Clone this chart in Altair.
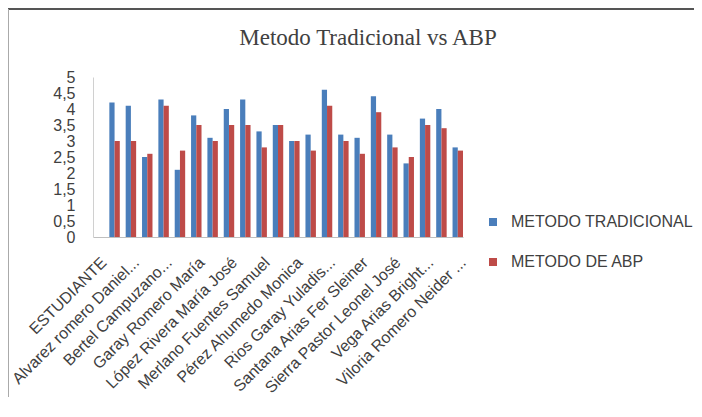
import json
import altair as alt
import pandas as pd

categorias = [
    "ESTUDIANTE", "Estudiante 1", "Alvarez romero Daniel...", "Estudiante 3",
    "Bertel Campuzano...", "Estudiante 5", "Garay Romero María", "Estudiante 7",
    "López Rivera María José", "Estudiante 9", "Merlano Fuentes Samuel", "Estudiante 11",
    "Pérez Ahumedo Monica", "Estudiante 13", "Rios Garay Yuladis...", "Estudiante 15",
    "Santana Arias Fer Sleiner", "Estudiante 17", "Sierra Pastor Leonel José", "Estudiante 19",
    "Vega Arias Bright...", "Estudiante 21", "Viloria Romero Neider ...",
]
etiquetas_visibles = categorias[::2]
tradicional = [None, 4.2, 4.1, 2.5, 4.3, 2.1, 3.8, 3.1, 4.0, 4.3, 3.3, 3.5,
               3.0, 3.2, 4.6, 3.2, 3.1, 4.4, 3.2, 2.3, 3.7, 4.0, 2.8]
abp = [None, 3.0, 3.0, 2.6, 4.1, 2.7, 3.5, 3.0, 3.5, 3.5, 2.8, 3.5,
       3.0, 2.7, 4.1, 3.0, 2.6, 3.9, 2.8, 2.5, 3.5, 3.4, 2.7]
series = ["METODO TRADICIONAL", "METODO DE ABP"]
colores = ["#4A7EBB", "#BE4B48"]
y_ticks = [0, 0.5, 1, 1.5, 2, 2.5, 3, 3.5, 4, 4.5, 5]
titulo = "Metodo Tradicional vs ABP"

rows = []
for cat, t, a in zip(categorias, tradicional, abp):
    if t is not None:
        rows.append({"estudiante": cat, "metodo": series[0], "nota": t})
    if a is not None:
        rows.append({"estudiante": cat, "metodo": series[1], "nota": a})
df = pd.DataFrame(rows)

font = "Liberation Sans"
txt = "#404040"

bars = alt.Chart(df).mark_bar().encode(
    x=alt.X(
        "estudiante:N",
        sort=categorias,
        scale=alt.Scale(domain=categorias, paddingInner=0.36, paddingOuter=0),
        axis=alt.Axis(
            title=None, labelAngle=-45, labelFont=font, labelFontSize=16,
            labelColor=txt, ticks=False, domainColor="#BFBFBF", labelPadding=17,
            labelLimit=0, labelOverlap=False,
            labelExpr="indexof(" + json.dumps(etiquetas_visibles) + ", datum.value) >= 0 ? datum.label : ''",
        ),
    ),
    xOffset=alt.XOffset("metodo:N", sort=series,
                        scale=alt.Scale(domain=series, paddingInner=0, paddingOuter=0)),
    y=alt.Y(
        "nota:Q",
        scale=alt.Scale(domain=[0, 5], nice=False),
        axis=alt.Axis(
            title=None, values=y_ticks, grid=False, ticks=False, labelFont=font,
            labelFontSize=16, labelColor=txt, labelPadding=18, domainColor="#D0D0D0",
            labelOverlap=False,
            labelExpr="replace(format(datum.value, '~g'), '.', ',')",
        ),
    ),
    color=alt.Color(
        "metodo:N", sort=series,
        scale=alt.Scale(domain=series, range=colores),
        legend=alt.Legend(
            title=None, orient="none", legendX=392, legendY=137, symbolType="square",
            symbolSize=64, symbolStrokeWidth=0, labelFont=font, labelFontSize=16,
            labelColor=txt, rowPadding=24, labelOffset=10, padding=0, labelLimit=0,
        ),
    ),
)

titulo_txt = alt.Chart(alt.Data(values=[{"t": titulo}])).mark_text(
    font="Liberation Serif", fontSize=23, color=txt, align="center", baseline="alphabetic"
).encode(text="t:N", x=alt.value(275), y=alt.value(-32))

borde_sup = alt.Chart(alt.Data(values=[{"k": 1}])).mark_rule(color="#555555", strokeWidth=2).encode(
    x=alt.value(-85), x2=alt.value(601), y=alt.value(-68)
)
borde_izq = alt.Chart(alt.Data(values=[{"k": 1}])).mark_rule(color="#AAAAAA", strokeWidth=1).encode(
    x=alt.value(-84.5), y=alt.value(-68), y2=alt.value(330)
)

chart = alt.layer(bars, titulo_txt, borde_sup, borde_izq).properties(
    width=370,
    height=160,
    autosize=alt.AutoSizeParams(type="none"),
    padding={"left": 85, "top": 69, "right": 231, "bottom": 160},
).configure_view(stroke=None)

chart.save("out.html", embed_options={"renderer": "svg", "actions": False})
